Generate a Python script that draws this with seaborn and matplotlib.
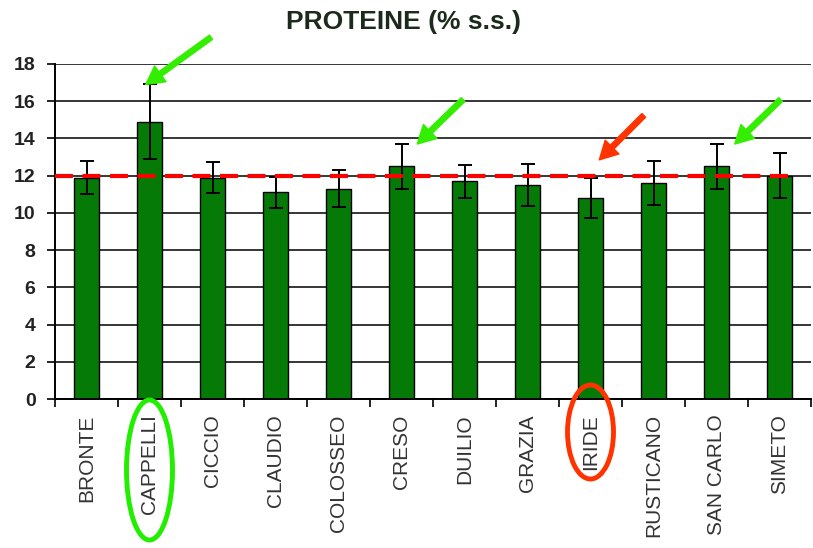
import numpy as np
import pandas as pd
import matplotlib.pyplot as plt
import seaborn as sns
from matplotlib.patches import Ellipse
from matplotlib.ticker import FixedLocator

# data
varieties = ["BRONTE", "CAPPELLI", "CICCIO", "CLAUDIO", "COLOSSEO", "CRESO",
             "DUILIO", "GRAZIA", "IRIDE", "RUSTICANO", "SAN CARLO", "SIMETO"]
protein = [11.9, 14.9, 11.9, 11.1, 11.3, 12.5, 11.7, 11.5, 10.8, 11.6, 12.5, 12.0]
err = [0.9, 2.0, 0.85, 0.85, 1.0, 1.2, 0.9, 1.15, 1.05, 1.2, 1.2, 1.2]
reference = 12

df = pd.DataFrame({"varieta": varieties, "proteine": protein, "err": err})

sns.set_theme(style="white")
plt.rcParams["font.family"] = ["Liberation Sans", "DejaVu Sans"]

fig = plt.figure(figsize=(8.13, 5.48), dpi=100)
ax = fig.add_axes([55 / 813, 1 - 399 / 548, 756 / 813, 335 / 548])

sns.barplot(data=df, x="varieta", y="proteine", color="#067a06", saturation=1,
            edgecolor="black", linewidth=1, width=0.4, errorbar=None, ax=ax)
ax.errorbar(np.arange(len(varieties)), df["proteine"], yerr=df["err"], fmt="none",
            ecolor="black", elinewidth=1.4, capsize=5, capthick=1.4, zorder=5)

# reference line (dashed red)
ax.plot([-0.5, len(varieties) - 0.8], [reference, reference], color="#ff0000",
        linewidth=3, dashes=(4.3, 2.3), solid_capstyle="butt", zorder=6)

ax.set_xlim(-0.5, len(varieties) - 0.5)
ax.set_ylim(0, 18)
ax.set_yticks(range(0, 19, 2))
ax.yaxis.grid(True, color="black", linewidth=1.1)
ax.set_axisbelow(True)
for s in ["top", "right"]:
    ax.spines[s].set_visible(False)
for s in ["left", "bottom"]:
    ax.spines[s].set_color("black")
    ax.spines[s].set_linewidth(1.4)

ax.tick_params(axis="y", left=True, length=6, width=1.2, color="black",
               labelsize=14, pad=8)
for t in ax.get_yticklabels():
    t.set_fontweight("bold")
    t.set_color("#222222")
ax.tick_params(axis="x", which="major", length=0, pad=11, labelsize=15,
               labelrotation=90, labelcolor="#333333")
ax.xaxis.set_minor_locator(FixedLocator(np.arange(-0.5, len(varieties), 1)))
ax.tick_params(axis="x", which="minor", bottom=True, length=6, width=1.2, color="black")
for t in ax.get_xticklabels():
    t.set_verticalalignment("top")
ax.set_xlabel("")
ax.set_ylabel("")

fig.text(403 / 813, 1 - 22 / 548, "PROTEINE (% s.s.)", ha="center", va="center",
         fontsize=19, fontweight="bold", color="#1c2a1c")

# arrows pointing at the highlighted varieties
arrows = [("CAPPELLI", -0.06, 16.9, 47, 34, "#33ee00"),
          ("CRESO", 0.25, 13.7, 33, 32, "#33ee00"),
          ("IRIDE", 0.14, 12.85, 32, 32, "#ff3300"),
          ("SAN CARLO", 0.29, 13.7, 33, 32, "#33ee00")]
for name, dx, y, ox, oy, col in arrows:
    i = varieties.index(name)
    ax.annotate("", xy=(i + dx, y), xytext=(ox, oy), textcoords="offset points",
                arrowprops=dict(color=col, width=3.8, headwidth=14, headlength=13, shrink=0),
                annotation_clip=False, zorder=7)

# ellipses around the labels
for name, cy, h, col in [("CAPPELLI", 470, 140, "#22ee00"), ("IRIDE", 432, 94, "#ff3300")]:
    i = varieties.index(name)
    cx = ax.transData.transform((i, 0))[0]
    fig.patches.append(Ellipse((cx / 813, 1 - cy / 548), 46 / 813, h / 548,
                               transform=fig.transFigure, fill=False,
                               edgecolor=col, linewidth=3.5))

fig.savefig("out.png", dpi=100)
